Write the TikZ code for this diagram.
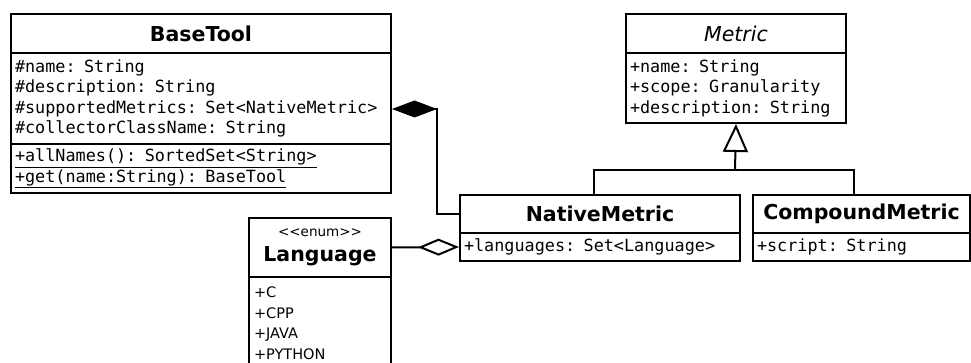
\documentclass[tikz,border=0pt]{standalone}
\usepackage{fontspec}
\setmainfont{DejaVu Sans}
\setmonofont{DejaVu Sans Mono}
\newfontfamily\enumfont{DejaVu Sans}
\usetikzlibrary{arrows.meta}

\begin{document}
\begin{tikzpicture}[x=1pt, y=-1pt,
  head/.style={draw, line width=2pt, anchor=north west, align=center, inner sep=0pt, font=\fontsize{20.5}{25}\selectfont\bfseries},
  attrs/.style={draw, line width=2pt, anchor=north west, align=left, inner xsep=4pt, inner ysep=0pt, font=\fontsize{16.8}{20.5}\selectfont\ttfamily},
  lits/.style={draw, line width=2pt, anchor=north west, align=left, inner xsep=5pt, inner ysep=10pt, font=\fontsize{14.5}{20.5}\selectfont\enumfont},
  line/.style={line width=2pt}
]
  \useasboundingbox (0,0) rectangle (971,363);

  \node[head, minimum width=380pt, minimum height=39pt] (basetool) at (10,13) {BaseTool};
  \node[attrs, text width=372pt, minimum height=91pt] (basetool-attr) at (10,52) {\#name: String\\\#description: String\\\#supportedMetrics: Set<NativeMetric>\\\#collectorClassName: String};
  \node[attrs, text width=372pt, minimum height=49pt] (basetool-ops) at (10,143) {\underline{+allNames(): SortedSet<String>}\\\underline{+get(name:String): BaseTool}};

  \node[head, minimum width=220pt, minimum height=39pt] (metric) at (625,13) {\mdseries\itshape Metric};
  \node[attrs, text width=212pt, minimum height=70pt] (metric-attr) at (625,52) {+name: String\\+scope: Granularity\\+description: String};

  \node[head, minimum width=280pt, minimum height=38pt] (native) at (459,194) {NativeMetric};
  \node[attrs, text width=272pt, minimum height=28pt] (native-attr) at (459,232) {+languages: Set<Language>};

  \node[head, minimum width=217pt, minimum height=38pt] (compound) at (752,194) {CompoundMetric};
  \node[attrs, text width=209pt, minimum height=28pt] (compound-attr) at (752,232) {+script: String};

  \node[head, minimum width=142pt, minimum height=59pt] (language) at (248,217) {{\enumfont\mdseries\fontsize{13.5}{16}\selectfont <<enum>>}\\Language};
  \node[lits, text width=132pt] (language-lit) at (248,276) {+C\\+CPP\\+JAVA\\+PYTHON};

  \coordinate (gen) at (735,170);
  \draw[line, -{Triangle[open, length=28pt, width=25pt]}] (gen) -- (metric-attr.south);
  \draw[line] ([xshift=-6pt]native.north) |- (gen) -| ([xshift=-7.5pt]compound.north);

  \draw[line, -{Diamond[length=45pt, width=17pt]}] (native.west) -- ++(-22,0) |- ([yshift=-10.5pt]basetool-attr.east);
  \draw[line, -{Diamond[open, length=41pt, width=17pt]}] (language.east) -- (native-attr.west);
\end{tikzpicture}
\end{document}
